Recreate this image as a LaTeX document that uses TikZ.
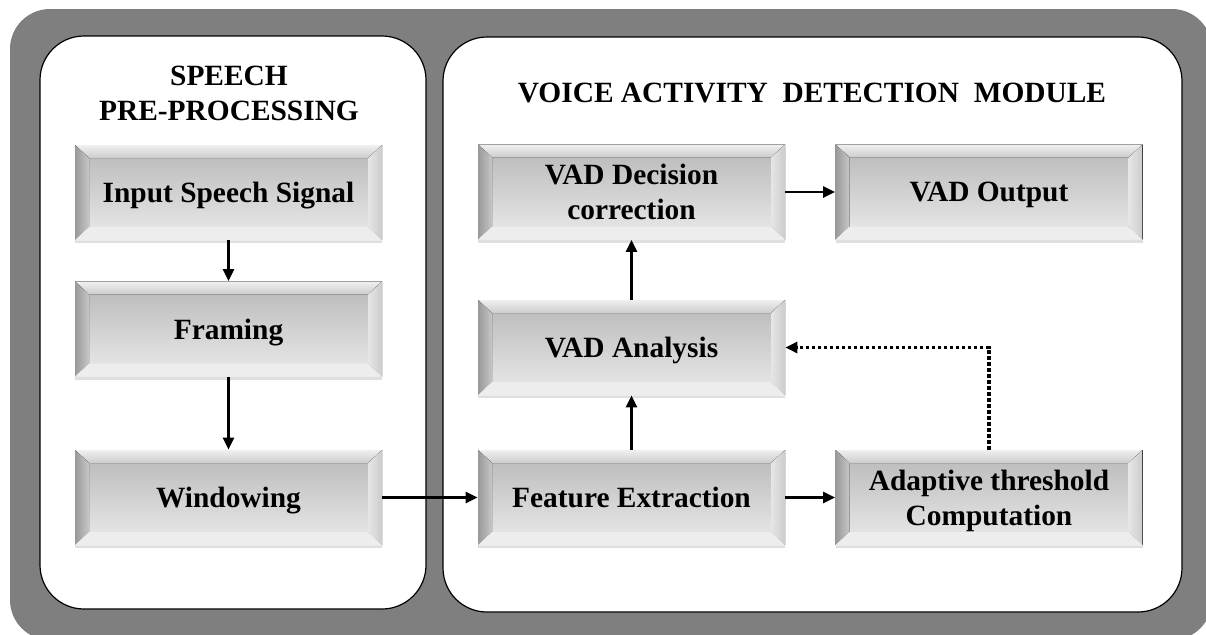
\documentclass[tikz,border=0pt]{standalone}
\usepackage{fontspec}
\setmainfont{Liberation Serif}
\usepackage{tikz}
\usetikzlibrary{calc, arrows.meta, shadows}
\newcommand{\boxfont}{\fontsize{14.7}{17.5}\selectfont\bfseries}
\definecolor{framegray}{HTML}{7F7F7F}

\tikzset{
  bevelbox/.style={rectangle, minimum width=153.5pt, minimum height=47.5pt, inner sep=0pt, align=center, font=\boxfont,
    text depth=0pt,
    top color=black!28, bottom color=black!8,
    drop shadow={opacity=0.25, shadow xshift=0pt, shadow yshift=-1.5pt},
    path picture={
      \coordinate (bnw) at (path picture bounding box.north west);
      \coordinate (bne) at (path picture bounding box.north east);
      \coordinate (bsw) at (path picture bounding box.south west);
      \coordinate (bse) at (path picture bounding box.south east);
      \coordinate (inw) at ([shift={(7pt,-6.5pt)}]bnw);
      \coordinate (ine) at ([shift={(-7pt,-6.5pt)}]bne);
      \coordinate (isw) at ([shift={(7pt,6.5pt)}]bsw);
      \coordinate (ise) at ([shift={(-7pt,6.5pt)}]bse);
      \fill[top color=black!6, bottom color=black!20] (bnw) -- (bne) -- (ine) -- (inw) -- cycle;
      \fill[left color=black!40, right color=black!22] (bnw) -- (inw) -- (isw) -- (bsw) -- cycle;
      \fill[left color=black!10, right color=black!20] (bne) -- (ine) -- (ise) -- (bse) -- cycle;
      \fill[black!7] (bsw) -- (isw) -- (ise) -- (bse) -- cycle;
    }},
  panel/.style={draw=black, line width=0.6pt, fill=white, rounded corners=22pt},
  flow/.style={line width=1.4pt, -{Triangle[length=6pt, width=5.5pt]}},
  feedback/.style={line width=1.6pt, dash pattern=on 1.6pt off 1.4pt, -{Triangle[length=6pt, width=5.5pt]}},
  heading/.style={font=\boxfont, align=center}
}

\begin{document}
\begin{tikzpicture}[x=0.5pt, y=-0.5pt]
\useasboundingbox (0,0) rectangle (1206,634);
\clip (0,0) rectangle (1206,634);

% frame and the two panels
\fill[framegray, rounded corners=20pt] (10,9) rectangle (1212,640);
\draw[panel] (40,36) rectangle (426,609);
\draw[panel] (443,37) rectangle (1182,612);

\node[heading] (pretitle) at (229,93) {SPEECH\\PRE-PROCESSING};
\node[heading] (vadtitle) at (812,93) {VOICE ACTIVITY\ \ DETECTION\ \ MODULE};

% pre-processing column
\node[bevelbox] (inspeech) at (228.5,192.5) {Input Speech Signal};
\node[bevelbox] (framing) at (228.5,329) {Framing};
\node[bevelbox] (windowing) at (228.5,497.5) {Windowing};

% vad module
\node[bevelbox] (decision) at (631.5,192) {VAD Decision\\correction};
\node[bevelbox] (vadout) at (989,192) {VAD Output};
\node[bevelbox] (analysis) at (631.5,347.5) {VAD Analysis};
\node[bevelbox] (feature) at (631.5,497.5) {Feature Extraction};
\node[bevelbox] (threshold) at (989,497.5) {Adaptive threshold\\Computation};

\draw[flow] (inspeech) -- (framing);
\draw[flow] (framing) -- (windowing);
\draw[flow] (windowing) -- (feature);
\draw[flow] (feature) -- (threshold);
\draw[flow] (feature) -- (analysis);
\draw[flow] (analysis) -- (decision);
\draw[flow] (decision) -- (vadout);
\draw[feedback] (threshold.north) |- (analysis.east);
\end{tikzpicture}
\end{document}
